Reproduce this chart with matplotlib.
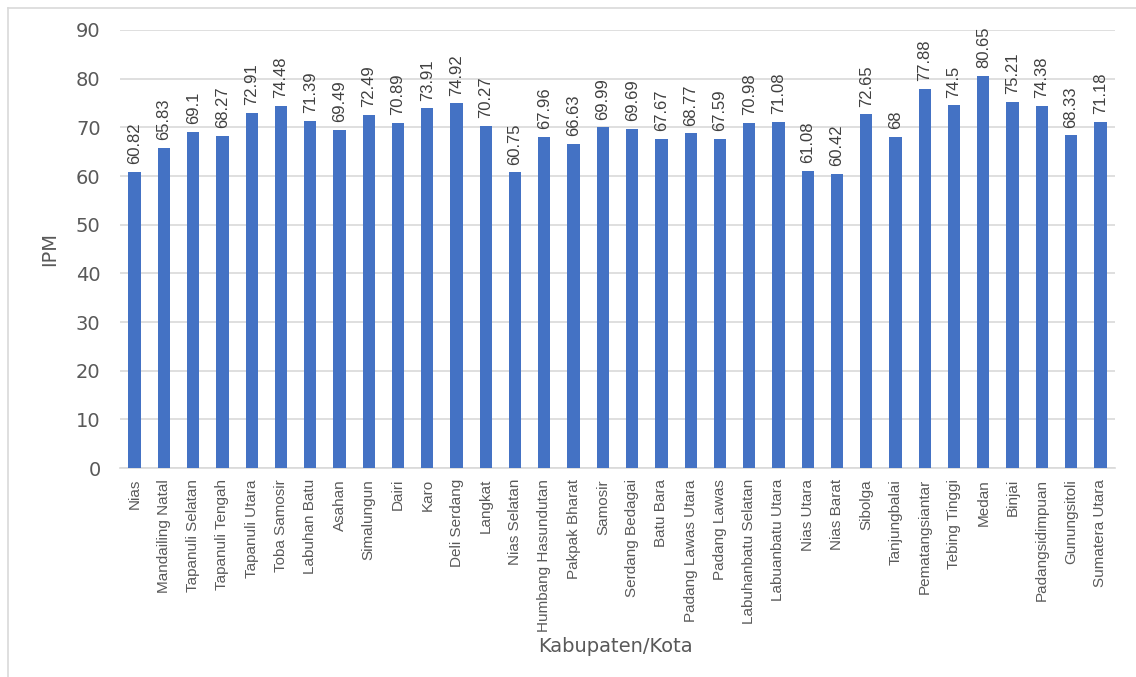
import matplotlib.pyplot as plt
from matplotlib.lines import Line2D

# IPM per kabupaten/kota
kabupaten = ['Nias', 'Mandailing Natal', 'Tapanuli Selatan', 'Tapanuli Tengah', 'Tapanuli Utara',
             'Toba Samosir', 'Labuhan Batu', 'Asahan', 'Simalungun', 'Dairi', 'Karo', 'Deli Serdang',
             'Langkat', 'Nias Selatan', 'Humbang Hasundutan', 'Pakpak Bharat', 'Samosir',
             'Serdang Bedagai', 'Batu Bara', 'Padang Lawas Utara', 'Padang Lawas',
             'Labuhanbatu Selatan', 'Labuanbatu Utara', 'Nias Utara', 'Nias Barat', 'Sibolga',
             'Tanjungbalai', 'Pematangsiantar', 'Tebing Tinggi', 'Medan', 'Binjai',
             'Padangsidimpuan', 'Gunungsitoli', 'Sumatera Utara']
ipm = [60.82, 65.83, 69.1, 68.27, 72.91, 74.48, 71.39, 69.49, 72.49, 70.89, 73.91, 74.92,
       70.27, 60.75, 67.96, 66.63, 69.99, 69.69, 67.67, 68.77, 67.59, 70.98, 71.08, 61.08,
       60.42, 72.65, 68, 77.88, 74.5, 80.65, 75.21, 74.38, 68.33, 71.18]
ipm_text = ['60.82', '65.83', '69.1', '68.27', '72.91', '74.48', '71.39', '69.49', '72.49', '70.89',
            '73.91', '74.92', '70.27', '60.75', '67.96', '66.63', '69.99', '69.69', '67.67', '68.77',
            '67.59', '70.98', '71.08', '61.08', '60.42', '72.65', '68', '77.88', '74.5', '80.65',
            '75.21', '74.38', '68.33', '71.18']
yticks = [0, 10, 20, 30, 40, 50, 60, 70, 80, 90]

narrow = ['Liberation Sans', 'DejaVu Sans']
grey = '#595959'

fig = plt.figure(figsize=(11.36, 6.77), dpi=100)
ax = fig.add_axes([120 / 1136, 1 - 468 / 677, (1115 - 120) / 1136, (468 - 30) / 677])

x = range(len(kabupaten))
ax.bar(x, ipm, width=0.42, color='#4472C4', zorder=3)

for i, (v, t) in enumerate(zip(ipm, ipm_text)):
    ax.text(i, v + 1.6, t, rotation=90, ha='center', va='bottom',
            fontsize=12, color='#404040', family=narrow)

ax.set_xlim(-0.5, len(kabupaten) - 0.5)
ax.set_ylim(0, 90)
ax.set_yticks(yticks)
ax.set_xticks(list(x))
ax.set_xticklabels(kabupaten, rotation=90, fontsize=11, color=grey, family=narrow)
ax.tick_params(axis='y', labelsize=14, colors=grey, length=0, pad=14)
ax.tick_params(axis='x', length=0, pad=8)
ax.grid(axis='y', color='#d9d9d9', linewidth=1.2, zorder=0)
for s in ['top', 'right', 'left']:
    ax.spines[s].set_visible(False)
ax.spines['bottom'].set_color('#d9d9d9')
ax.spines['bottom'].set_linewidth(1.2)

ax.set_ylabel('IPM', fontsize=14, color=grey, labelpad=12)
fig.text(615 / 1136, 1 - 646 / 677, 'Kabupaten/Kota', fontsize=14, color=grey,
         ha='center', va='center')

# outer chart border (top and left visible)
fig.add_artist(Line2D([8 / 1136, 1.0], [1 - 8 / 677, 1 - 8 / 677], color='#d9d9d9', lw=1.2))
fig.add_artist(Line2D([8 / 1136, 8 / 1136], [0.0, 1 - 8 / 677], color='#d9d9d9', lw=1.2))

fig.savefig('out.png', dpi=100)
